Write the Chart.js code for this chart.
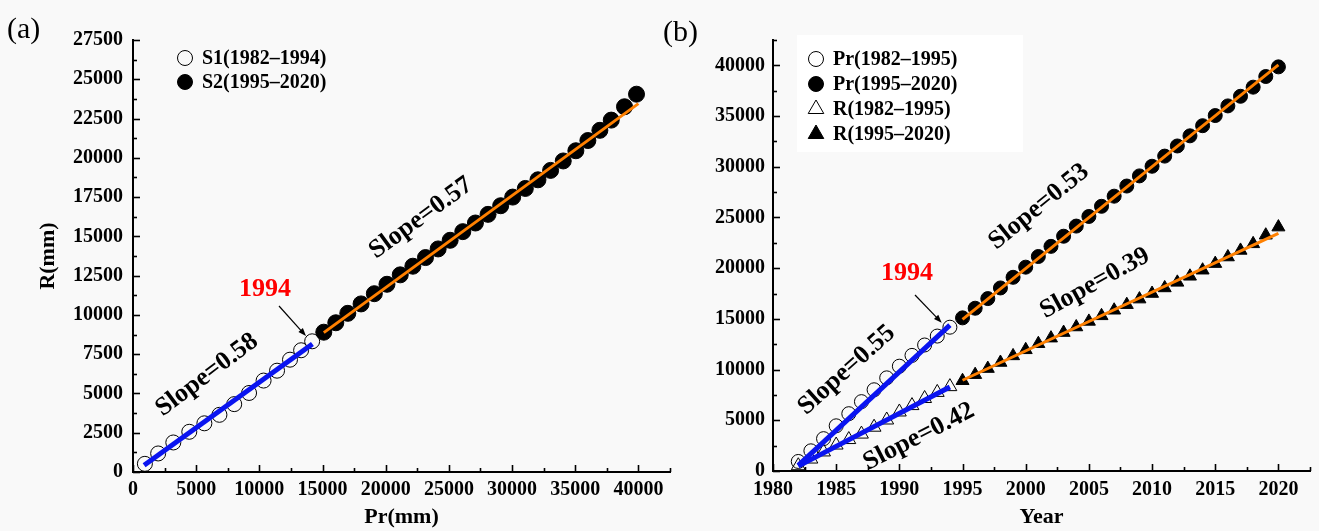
<!DOCTYPE html>
<html>
<head>
<meta charset="utf-8">
<script src="https://cdn.jsdelivr.net/npm/chart.js@4.4.1/dist/chart.umd.min.js"></script>
<style>
  html, body { margin: 0; padding: 0; background: #f9f9f9; }
  #wrap { position: relative; width: 1319px; height: 531px; overflow: hidden; }
  canvas { position: absolute; top: 0; }
  #chartA { left: 0; }
  #chartB { left: 660px; }
</style>
</head>
<body>
<div id="wrap">
  <canvas id="chartA" width="690" height="531"></canvas>
  <canvas id="chartB" width="659" height="531"></canvas>
</div>
<script>
// cumulative precipitation (Pr) and runoff (R), mm
const years1 = [1982, 1983, 1984, 1985, 1986, 1987, 1988, 1989, 1990, 1991, 1992, 1993, 1994];
const years2 = [1995, 1996, 1997, 1998, 1999, 2000, 2001, 2002, 2003, 2004, 2005, 2006, 2007,
  2008, 2009, 2010, 2011, 2012, 2013, 2014, 2015, 2016, 2017, 2018, 2019, 2020];
const prCum1 = [940, 1990, 3190, 4455, 5650, 6840, 8010, 9185, 10335, 11400, 12425, 13305, 14180];
const rCum1 = [520, 1180, 1880, 2560, 3100, 3640, 4320, 5030, 5820, 6450, 7150, 7750, 8320];
const prCum2 = [15100, 16050, 17000, 18050, 19100, 20100, 21150, 22150, 23150, 24150, 25100, 26100,
  27100, 28100, 29100, 30050, 31050, 32050, 33050, 34050, 35050, 36000, 36950, 37850, 38900, 39850];
const rCum2 = [8900, 9500, 10100, 10700, 11350, 11950, 12550, 13100, 13650, 14200, 14750, 15300,
  15850, 16400, 16950, 17500, 18050, 18600, 19200, 19800, 20450, 21100, 21750, 22400, 23250, 24050];

// fitted lines (end points)
const fitA1 = [[880, 430], [14200, 8150]];
const fitA2 = [[15100, 8870], [40000, 23450]];
const fitPr1 = [[1982, 550], [1994, 14380]];
const fitR1 = [[1982, 480], [1994, 8280]];
const fitPr2 = [[1995, 14950], [2020, 40050]];
const fitR2 = [[1995, 8950], [2020, 23440]];

// axis tick labels
const ticksPrA = [0, 5000, 10000, 15000, 20000, 25000, 30000, 35000, 40000];
const ticksRA = [0, 2500, 5000, 7500, 10000, 12500, 15000, 17500, 20000, 22500, 25000, 27500];
const ticksYearB = [1980, 1985, 1990, 1995, 2000, 2005, 2010, 2015, 2020];
const ticksValB = [0, 5000, 10000, 15000, 20000, 25000, 30000, 35000, 40000];

const FONT = "'Liberation Serif', 'Times New Roman', serif";
const BLUE = "#0a14f0";
const ORANGE = "#ff8000";

Chart.defaults.color = "#000";
Chart.defaults.font.family = FONT;

function pts(xs, ys) {
  return xs.map((x, i) => ({ x, y: ys[i] }));
}
function pairs(arr) {
  return arr.map(([x, y]) => ({ x, y }));
}

function fitDataset(data, color, width) {
  return {
    data: pairs(data),
    showLine: true,
    borderColor: color,
    borderWidth: width,
    pointRadius: 0,
    order: 0,
  };
}

function markDataset(label, data, style, filled, r) {
  return {
    label,
    data,
    pointStyle: style,
    pointRadius: r,
    pointHoverRadius: r,
    pointBackgroundColor: filled ? "#000" : "rgba(0,0,0,0)",
    pointBorderColor: "#000",
    pointBorderWidth: 1,
    showLine: false,
    order: 1,
    legend: true,
  };
}

function drawMarker(ctx, style, filled, x, y, r) {
  ctx.beginPath();
  if (style === "triangle") {
    for (let k = 0; k < 3; k++) {
      const a = k * 2 * Math.PI / 3;
      const px = x + Math.sin(a) * r, py = y - Math.cos(a) * r;
      k === 0 ? ctx.moveTo(px, py) : ctx.lineTo(px, py);
    }
    ctx.closePath();
  } else {
    ctx.arc(x, y, r, 0, Math.PI * 2);
  }
  ctx.lineWidth = 1;
  ctx.strokeStyle = "#000";
  ctx.fillStyle = "#000";
  if (filled) ctx.fill();
  ctx.stroke();
}

// inward major / minor ticks
const innerTicks = {
  id: "innerTicks",
  afterDraw(chart) {
    const ctx = chart.ctx, a = chart.chartArea;
    ctx.save();
    ctx.strokeStyle = "#000";
    ctx.lineWidth = 1.6;
    ["x", "y"].forEach((id) => {
      const s = chart.scales[id];
      const vals = s.ticks.map((t) => t.value);
      const step = vals[1] - vals[0];
      const marks = [];
      vals.forEach((v) => {
        marks.push([v, 7]);
        if (v + step / 2 <= s.max + 1e-9) marks.push([v + step / 2, 4]);
      });
      marks.forEach(([v, len]) => {
        const p = Math.round(s.getPixelForValue(v)) + 0.5;
        ctx.beginPath();
        if (id === "x") { ctx.moveTo(p, a.bottom); ctx.lineTo(p, a.bottom - len); }
        else { ctx.moveTo(a.left, p); ctx.lineTo(a.left + len, p); }
        ctx.stroke();
      });
    });
    ctx.restore();
  },
};

const markLegend = {
  id: "markLegend",
  afterDraw(chart, args, opts) {
    const ctx = chart.ctx;
    ctx.save();
    if (opts.box) {
      ctx.fillStyle = "#ffffff";
      ctx.fillRect(opts.box[0], opts.box[1], opts.box[2], opts.box[3]);
    }
    let row = 0;
    chart.data.datasets.forEach((ds) => {
      if (!ds.legend) return;
      const y = opts.y + row * opts.gap;
      const filled = ds.pointBackgroundColor === "#000";
      drawMarker(ctx, ds.pointStyle, filled, opts.x, y, ds.pointStyle === "triangle" ? 9 : 7.5);
      ctx.fillStyle = "#000";
      ctx.font = "bold 20px " + FONT;
      ctx.textAlign = "left";
      ctx.textBaseline = "middle";
      ctx.fillText(ds.label, opts.x + 17, y + 1);
      row++;
    });
    ctx.restore();
  },
};

const notes = {
  id: "notes",
  afterDraw(chart, args, opts) {
    const ctx = chart.ctx;
    const xs = chart.scales.x, ys = chart.scales.y;
    ctx.save();
    (opts.arrows || []).forEach((ar) => {
      const x1 = xs.getPixelForValue(ar[0]), y1 = ys.getPixelForValue(ar[1]);
      const x2 = xs.getPixelForValue(ar[2]), y2 = ys.getPixelForValue(ar[3]);
      const ang = Math.atan2(y2 - y1, x2 - x1);
      ctx.strokeStyle = "#000";
      ctx.fillStyle = "#000";
      ctx.lineWidth = 1.2;
      ctx.beginPath();
      ctx.moveTo(x1, y1);
      ctx.lineTo(x2 - 6 * Math.cos(ang), y2 - 6 * Math.sin(ang));
      ctx.stroke();
      ctx.beginPath();
      ctx.moveTo(x2, y2);
      ctx.lineTo(x2 - 8 * Math.cos(ang) + 3 * Math.sin(ang), y2 - 8 * Math.sin(ang) - 3 * Math.cos(ang));
      ctx.lineTo(x2 - 8 * Math.cos(ang) - 3 * Math.sin(ang), y2 - 8 * Math.sin(ang) + 3 * Math.cos(ang));
      ctx.closePath();
      ctx.fill();
    });
    (opts.texts || []).forEach((t) => {
      ctx.save();
      ctx.translate(xs.getPixelForValue(t.x), ys.getPixelForValue(t.y));
      ctx.rotate(-(t.angle || 0) * Math.PI / 180);
      ctx.font = "bold " + t.size + "px " + FONT;
      ctx.fillStyle = t.color || "#000";
      ctx.textAlign = "center";
      ctx.textBaseline = "middle";
      ctx.fillText(t.text, 0, 0);
      ctx.restore();
    });
    if (opts.tag) {
      ctx.font = "30px " + FONT;
      ctx.fillStyle = "#000";
      ctx.textAlign = "left";
      ctx.textBaseline = "middle";
      ctx.fillText(opts.tag.text, opts.tag.x, opts.tag.y);
    }
    ctx.restore();
  },
};

function axis(min, max, tickValues, title, opts) {
  return {
    type: "linear",
    min,
    max,
    border: { display: true, color: "#000", width: 2 },
    grid: { display: false, drawTicks: false },
    afterBuildTicks: (s) => { s.ticks = tickValues.map((value) => ({ value })); },
    afterFit: opts.fit,
    ticks: {
      autoSkip: false,
      maxRotation: 0,
      padding: opts.pad,
      font: { size: 20, weight: "bold", family: FONT },
      callback: (v) => String(v),
    },
    title: title
      ? { display: true, text: title, font: { size: 22, weight: "bold", family: FONT }, padding: opts.titlePad }
      : { display: false },
  };
}

new Chart(document.getElementById("chartA"), {
  type: "scatter",
  data: {
    datasets: [
      fitDataset(fitA1, BLUE, 5),
      fitDataset(fitA2, ORANGE, 3),
      markDataset("S1(1982\u20131994)", pts(prCum1, rCum1), "circle", false, 7.5),
      markDataset("S2(1995\u20132020)", pts(prCum2, rCum2), "circle", true, 8),
    ],
  },
  options: {
    responsive: false,
    animation: false,
    layout: { padding: { left: 0, right: 20, top: 40, bottom: 0 } },
    scales: {
      x: axis(0, 42500, ticksPrA, "Pr(mm)", { pad: 6, fit: (s) => { s.height = 59; }, titlePad: { top: 0, bottom: 0 } }),
      y: axis(0, 27500, ticksRA, "R(mm)", { pad: 10, fit: (s) => { s.width = 133; }, titlePad: { top: 35, bottom: 0 } }),
    },
    plugins: {
      legend: { display: false },
      tooltip: { enabled: false },
      markLegend: { x: 185, y: 58, gap: 24 },
      notes: {
        tag: { text: "(a)", x: 7, y: 30 },
        arrows: [[11555, 10567, 13692, 8657]],
        texts: [
          { text: "1994", x: 10447, y: 11649, size: 26, color: "#ff0000" },
          { text: "Slope=0.58", x: 5857, y: 6175, size: 26, angle: 37 },
          { text: "Slope=0.57", x: 22793, y: 16169, size: 26, angle: 36 },
        ],
      },
    },
  },
  plugins: [innerTicks, markLegend, notes],
});

new Chart(document.getElementById("chartB"), {
  type: "scatter",
  data: {
    datasets: [
      fitDataset(fitPr1, BLUE, 5),
      fitDataset(fitR1, BLUE, 5),
      fitDataset(fitPr2, ORANGE, 3),
      fitDataset(fitR2, ORANGE, 3),
      markDataset("Pr(1982\u20131995)", pts(years1, prCum1), "circle", false, 7),
      markDataset("Pr(1995\u20132020)", pts(years2, prCum2), "circle", true, 7),
      markDataset("R(1982\u20131995)", pts(years1, rCum1), "triangle", false, 8),
      markDataset("R(1995\u20132020)", pts(years2, rCum2), "triangle", true, 7.5),
    ],
  },
  options: {
    responsive: false,
    animation: false,
    layout: { padding: { left: 0, right: 9, top: 40, bottom: 0 } },
    scales: {
      x: axis(1980, 2022.5, ticksYearB, "Year", { pad: 7, fit: (s) => { s.height = 60; }, titlePad: { top: 0, bottom: 0 } }),
      y: axis(0, 42500, ticksValB, null, { pad: 8, fit: (s) => { s.width = 113; } }),
    },
    plugins: {
      legend: { display: false },
      tooltip: { enabled: false },
      markLegend: { x: 156, y: 59, gap: 25, box: [137, 35, 226, 117] },
      notes: {
        tag: { text: "(b)", x: 3, y: 33 },
        arrows: [[1991.24, 17355, 1993.35, 14624]],
        texts: [
          { text: "1994", x: 1990.6, y: 19524, size: 26, color: "#ff0000" },
          { text: "Slope=0.55", x: 1985.83, y: 9960, size: 26, angle: 42 },
          { text: "Slope=0.42", x: 1991.55, y: 3382, size: 26, angle: 27 },
          { text: "Slope=0.53", x: 2001.05, y: 26062, size: 26, angle: 39 },
          { text: "Slope=0.39", x: 2005.48, y: 18509, size: 26, angle: 29 },
        ],
      },
    },
  },
  plugins: [innerTicks, markLegend, notes],
});
</script>
</body>
</html>
